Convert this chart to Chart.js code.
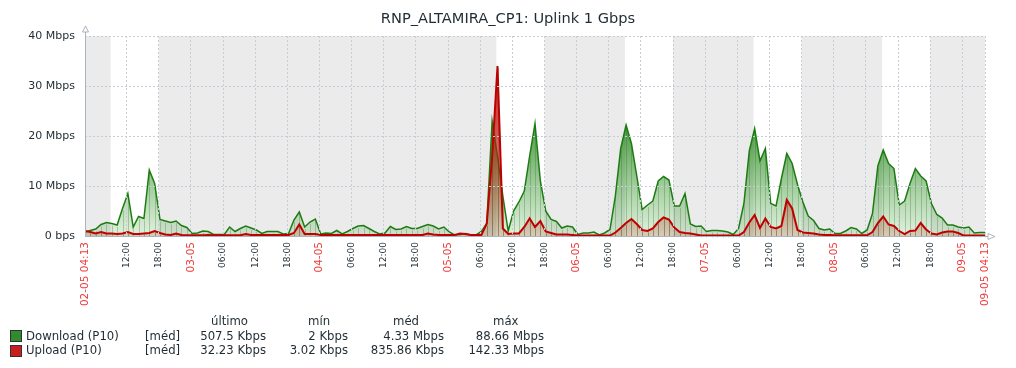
<!DOCTYPE html>
<html>
<head>
<meta charset="utf-8">
<script src="https://cdn.jsdelivr.net/npm/chart.js@4.4.0/dist/chart.umd.min.js"></script>
<style>
  html, body { margin: 0; padding: 0; background: #fff; overflow: hidden; }
  #wrap { position: relative; width: 1016px; height: 368px; font-family: 'DejaVu Sans', sans-serif; color: #1f2c33; }
  #myChart { position: absolute; left: 0; top: 0; }
  .t { position: absolute; font-size: 11.7px; line-height: 14px; white-space: nowrap; }
  .title { position: absolute; left: 0; width: 1016px; top: 9px; text-align: center; font-size: 14.6px; }
  .sw { position: absolute; width: 10px; height: 10px; border: 1px solid #333; }
</style>
</head>
<body>
<div id="wrap">
  <canvas id="myChart" width="1016" height="368"></canvas>
  <div class="title" id="title"></div>
  <div id="legend"></div>
</div>
<script>
// hourly samples, 02-05 04:13 -> 09-05 04:13 (Mbps)
const download = [
  0.8, 1.1, 1.4, 2.3, 2.7, 2.5, 2.2, 5.5, 8.5, 1.8,
  3.9, 3.5, 13.2, 10.5, 3.3, 3.0, 2.7, 3.0, 2.1, 1.7,
  0.5, 0.6, 1.0, 0.9, 0.3, 0.3, 0.3, 1.8, 0.9, 1.5,
  2.0, 1.6, 1.2, 0.5, 0.9, 0.9, 0.9, 0.4, 0.5, 3.2,
  4.8, 1.8, 2.8, 3.4, 0.4, 0.6, 0.5, 1.1, 0.4, 0.9,
  1.5, 2.0, 2.1, 1.5, 0.9, 0.4, 0.6, 1.9, 1.3, 1.4,
  1.9, 1.5, 1.5, 1.9, 2.3, 2.0, 1.4, 1.8, 0.8, 0.2,
  0.3, 0.5, 0.2, 0.2, 0.9, 2.5, 23, 16, 8, 1.0,
  5.0, 6.8, 9, 16, 22.5, 11, 5, 3.3, 2.9, 1.6,
  2.0, 1.8, 0.3, 0.6, 0.6, 0.8, 0.2, 0.6, 1.3, 8,
  17.5, 22.2, 18.5, 12, 5.3, 6.2, 7, 11, 11.9, 11.2,
  6, 6, 8.5, 2.4, 1.9, 2.0, 0.9, 1.1, 1.1, 1.0,
  0.8, 0.3, 1.5, 6.5, 17, 21.5, 15, 17.5, 6.5, 6.0,
  11.5, 16.5, 14.5, 10.3, 6.8, 4.0, 3.1, 1.5, 1.2, 1.4,
  0.5, 0.5, 1.0, 1.7, 1.4, 0.5, 1.2, 4.5, 14, 17.2,
  14.5, 13.5, 6.2, 7.0, 10.5, 13.5, 12.0, 11.0, 6.5, 4.3,
  3.6, 2.2, 2.2, 1.8, 1.6, 1.8, 0.6, 0.7, 0.7
];
const upload = [
  1.0, 0.8, 0.5, 0.8, 0.5, 0.5, 0.4, 0.5, 0.8, 0.4,
  0.4, 0.5, 0.6, 1.0, 0.6, 0.3, 0.2, 0.5, 0.2, 0.15,
  0.15, 0.15, 0.15, 0.2, 0.15, 0.15, 0.15, 0.15, 0.15, 0.15,
  0.4, 0.2, 0.2, 0.2, 0.2, 0.2, 0.2, 0.2, 0.2, 0.6,
  2.3, 0.4, 0.4, 0.4, 0.2, 0.2, 0.2, 0.2, 0.2, 0.2,
  0.2, 0.2, 0.2, 0.2, 0.2, 0.2, 0.2, 0.2, 0.2, 0.2,
  0.2, 0.2, 0.2, 0.2, 0.5, 0.3, 0.2, 0.2, 0.2, 0.2,
  0.5, 0.4, 0.2, 0.2, 0.2, 2.5, 16, 34, 1.5, 0.4,
  0.5, 0.5, 1.8, 3.5, 1.8, 3.0, 0.9, 0.6, 0.3, 0.3,
  0.3, 0.2, 0.1, 0.1, 0.1, 0.1, 0.1, 0.1, 0.1, 0.7,
  1.6, 2.6, 3.4, 2.4, 1.2, 1.0, 1.5, 2.8, 3.7, 3.3,
  1.7, 0.8, 0.6, 0.5, 0.3, 0.1, 0.1, 0.1, 0.1, 0.1,
  0.1, 0.1, 0.1, 0.8, 2.7, 4.2, 1.6, 3.5, 1.8, 1.5,
  2.0, 7.2, 5.5, 1.2, 0.7, 0.6, 0.5, 0.3, 0.2, 0.2,
  0.15, 0.15, 0.15, 0.15, 0.15, 0.15, 0.15, 0.8, 2.6, 3.9,
  2.3, 2.0, 1.0, 0.4, 1.0, 1.1, 2.6, 1.3, 0.5, 0.3,
  0.7, 0.9, 0.9, 0.6, 0.1, 0.1, 0.1, 0.1, 0.1
];

const xTickLabels = [
  '02-05 04:13', '12:00', '18:00',
  '03-05', '06:00', '12:00', '18:00',
  '04-05', '06:00', '12:00', '18:00',
  '05-05', '06:00', '12:00', '18:00',
  '06-05', '06:00', '12:00', '18:00',
  '07-05', '06:00', '12:00', '18:00',
  '08-05', '06:00', '12:00', '18:00',
  '09-05', '09-05 04:13'
];
const yTickLabels = ['0 bps', '10 Mbps', '20 Mbps', '30 Mbps', '40 Mbps'];

// working time (white), hours of the day; day index from 02-05
const workDays = [0, 3, 4, 5, 6];
const workHours = [9, 18];
const startHour = 4 + 13 / 60;
const spanHours = 168;

const legendNames = ['Download (P10)', 'Upload (P10)'];
const legendHead = ['último', 'mín', 'méd', 'máx'];
const legendLast = ['507.5 Kbps', '32.23 Kbps'];
const legendMin = ['2 Kbps', '3.02 Kbps'];
const legendAvg = ['4.33 Mbps', '835.86 Kbps'];
const legendMax = ['88.66 Mbps', '142.33 Mbps'];

const titleText = 'RNP_ALTAMIRA_CP1: Uplink 1 Gbps';

// tick positions: first, every 6h from 12:00, last
const tickHours = [0];
for (let i = 1; i < xTickLabels.length - 1; i++) tickHours.push(12 - startHour + 6 * (i - 1));
tickHours.push(spanHours);

const isRed = (i) => {
  const l = xTickLabels[i];
  return typeof l === 'string' && l.includes('-');
};

const axisColor = '#aab4bd';
const stripeColors = ['rgba(30,110,20,0.28)', 'rgba(120,40,20,0.28)'];

const shade = {
  id: 'shade',
  beforeDraw(chart) {
    const { ctx, chartArea: a, scales: { x } } = chart;
    ctx.save();
    ctx.fillStyle = '#ebebeb';
    ctx.fillRect(a.left, a.top, a.right - a.left, a.bottom - a.top);
    ctx.fillStyle = '#ffffff';
    workDays.forEach(d => {
      const x1 = x.getPixelForValue(Math.max(0, d * 24 + workHours[0] - startHour));
      const x2 = x.getPixelForValue(Math.min(spanHours, d * 24 + workHours[1] - startHour));
      ctx.fillRect(x1, a.top, x2 - x1, a.bottom - a.top);
    });
    ctx.restore();
  },
  afterDatasetDraw(chart, args) {
    // zabbix-like vertical stripes under each sample
    const { ctx, chartArea: a } = chart;
    ctx.save();
    ctx.strokeStyle = stripeColors[args.index];
    ctx.lineWidth = 1;
    ctx.beginPath();
    args.meta.data.forEach(p => {
      const px = Math.round(p.x) + 0.5;
      ctx.moveTo(px, p.y + 2);
      ctx.lineTo(px, a.bottom);
    });
    ctx.stroke();
    ctx.restore();
  },
  afterDraw(chart) {
    // axis lines with hollow arrow heads
    const { ctx, chartArea: a } = chart;
    const l = Math.round(a.left) + 0.5;
    const b = Math.round(a.bottom) + 0.5;
    ctx.save();
    ctx.strokeStyle = axisColor;
    ctx.lineWidth = 1;
    ctx.beginPath();
    ctx.moveTo(l, a.top - 4);
    ctx.lineTo(l, b);
    ctx.lineTo(a.right + 3, b);
    ctx.stroke();
    ctx.fillStyle = '#fff';
    ctx.beginPath();
    ctx.moveTo(l, a.top - 10);
    ctx.lineTo(l + 3, a.top - 4);
    ctx.lineTo(l - 3, a.top - 4);
    ctx.closePath();
    ctx.fill(); ctx.stroke();
    ctx.beginPath();
    ctx.moveTo(a.right + 10, b);
    ctx.lineTo(a.right + 3, b - 3);
    ctx.lineTo(a.right + 3, b + 3);
    ctx.closePath();
    ctx.fill(); ctx.stroke();
    ctx.restore();
  }
};

const grad = (stops) => (c) => {
  const { chart } = c;
  const a = chart.chartArea;
  if (!a) return stops[stops.length - 1][1];
  const g = chart.ctx.createLinearGradient(0, a.top, 0, a.bottom);
  stops.forEach(s => g.addColorStop(s[0], s[1]));
  return g;
};

Chart.defaults.font.family = "'DejaVu Sans', sans-serif";

const ctx = document.getElementById('myChart');

new Chart(ctx, {
  type: 'line',
  data: {
    datasets: [{
      label: legendNames[0],
      data: download.map((v, i) => ({ x: i, y: v })),
      borderColor: '#1c7c12',
      borderWidth: 1.5,
      backgroundColor: grad([[0, 'rgba(25,110,15,1)'], [0.45, 'rgba(35,130,25,0.82)'], [1, 'rgba(70,160,60,0.16)']]),
      fill: 'origin',
      pointRadius: 0,
      tension: 0,
      order: 2
    }, {
      label: legendNames[1],
      data: upload.map((v, i) => ({ x: i, y: v })),
      borderColor: '#c00000',
      borderWidth: 2,
      backgroundColor: grad([[0, 'rgba(200,0,0,0.95)'], [0.5, 'rgba(190,20,10,0.7)'], [1, 'rgba(170,60,30,0.2)']]),
      fill: 'origin',
      pointRadius: 0,
      tension: 0,
      order: 1
    }]
  },
  options: {
    responsive: false,
    animation: false,
    devicePixelRatio: 1,
    layout: { padding: { top: 36, right: 31, left: 0, bottom: 0 } },
    plugins: { legend: { display: false }, title: { display: false }, tooltip: { enabled: false } },
    scales: {
      x: {
        type: 'linear',
        min: 0,
        max: spanHours,
        afterBuildTicks: (scale) => { scale.ticks = tickHours.map(v => ({ value: v })); },
        afterFit: (scale) => { scale.height = 132; },
        ticks: {
          autoSkip: false,
          minRotation: 90,
          maxRotation: 90,
          padding: 6,
          callback: (v, i) => xTickLabels[i] || '',
          color: (c) => isRed(c.index) ? '#ee3b3b' : '#1f2c33',
          font: (c) => ({ size: isRed(c.index) ? 10.5 : 9 })
        },
        grid: { color: '#c5ced6', drawTicks: false, z: 1 },
        border: { display: false, dash: [2, 2] }
      },
      y: {
        min: 0,
        max: 40,
        afterFit: (scale) => { scale.width = 85; },
        ticks: {
          stepSize: 10,
          padding: 10,
          color: '#1f2c33',
          font: { size: 11 },
          callback: (v) => yTickLabels[v / 10]
        },
        grid: { color: '#c5ced6', drawTicks: false, z: 1 },
        border: { display: false, dash: [2, 2] }
      }
    }
  },
  plugins: [shade]
});

// title and legend table
document.getElementById('title').textContent = titleText;
const lg = document.getElementById('legend');
const put = (text, style) => {
  const d = document.createElement('div');
  d.className = 't';
  d.textContent = text;
  Object.assign(d.style, style);
  lg.appendChild(d);
};
const headLeft = [211, 308, 393, 493];
legendHead.forEach((h, i) => put(h, { left: headLeft[i] + 'px', top: '314px' }));
const swColors = ['#2e8b2e', '#c81e1e'];
const rights = [266, 348, 444, 544];
legendNames.forEach((n, r) => {
  const top = 328.5 + r * 14.5;
  const sw = document.createElement('div');
  sw.className = 'sw';
  sw.style.left = '10px';
  sw.style.top = (top + 1.5) + 'px';
  sw.style.background = swColors[r];
  lg.appendChild(sw);
  put(n, { left: '26px', top: top + 'px' });
  put('[méd]', { left: '145px', top: top + 'px' });
  [legendLast, legendMin, legendAvg, legendMax].forEach((col, k) => {
    put(col[r], { right: (1016 - rights[k]) + 'px', top: top + 'px', textAlign: 'right' });
  });
});
</script>
</body>
</html>
